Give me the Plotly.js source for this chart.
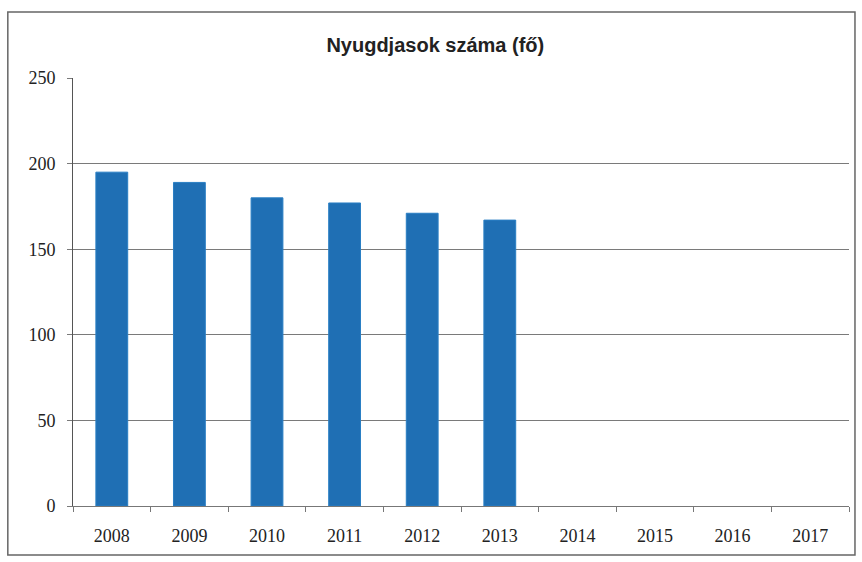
<!DOCTYPE html>
<html>
<head>
<meta charset="utf-8">
<script src="https://cdn.plot.ly/plotly-3.0.1.min.js"></script>
<style>html,body{margin:0;padding:0;background:#fff;}#chart{width:862px;height:562px;}</style>
</head>
<body>
<div id="chart"></div>
<script>
const years = ['2008','2009','2010','2011','2012','2013','2014','2015','2016','2017'];
const pensioners = [195, 189, 180, 177, 171, 167, null, null, null, null];
const yTicks = [0, 50, 100, 150, 200, 250];
const chartTitle = 'Nyugdjasok száma (fő)';

const trace = {
  type: 'bar',
  x: years,
  y: pensioners,
  marker: {color: '#1f6fb4', line: {color: '#2a7fc4', width: 1}},
  hoverinfo: 'x+y'
};

const layout = {
  width: 862, height: 562,
  margin: {l: 73, r: 13, t: 78, b: 56},
  paper_bgcolor: '#ffffff',
  plot_bgcolor: '#ffffff',
  showlegend: false,
  bargap: 0.59,
  title: {text: '<b>' + chartTitle + '</b>', x: 0.505, xanchor: 'center', y: 0.92, yanchor: 'middle',
          font: {family: 'Liberation Sans, Arial, sans-serif', size: 20, color: '#222'}},
  xaxis: {
    type: 'category',
    showgrid: false,
    showline: true, linecolor: '#777', linewidth: 1,
    ticks: 'outside', ticklen: 5, tickcolor: '#777', tickson: 'boundaries',
    ticklabelstandoff: 13,
    tickfont: {family: 'Liberation Serif, Times New Roman, serif', size: 18, color: '#222'},
    zeroline: false
  },
  yaxis: {
    range: [0, 250],
    tickvals: yTicks,
    showgrid: true, gridcolor: '#7a7a7a', gridwidth: 1,
    showline: true, linecolor: '#555', linewidth: 1,
    ticks: 'outside', ticklen: 5, tickcolor: '#7a7a7a',
    ticklabelstandoff: 8,
    tickfont: {family: 'Liberation Serif, Times New Roman, serif', size: 18, color: '#222'},
    zeroline: false
  },
  shapes: [{
    type: 'rect', xref: 'paper', yref: 'paper',
    x0: -0.084, x1: 1.0077, y0: -0.1145, y1: 1.154,
    line: {color: '#666', width: 1.5}
  }]
};

Plotly.newPlot('chart', [trace], layout, {displayModeBar: false, staticPlot: true});
</script>
</body>
</html>
